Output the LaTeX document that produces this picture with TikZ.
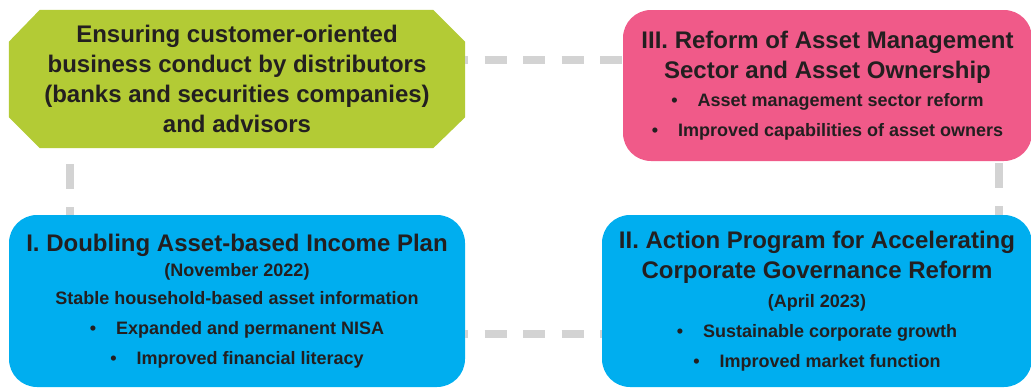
\documentclass[tikz,border=0pt]{standalone}
\usepackage{fontspec}
\setmainfont{Liberation Sans}
\usetikzlibrary{backgrounds}
\definecolor{leaf}{HTML}{B3CB35}
\definecolor{rose}{HTML}{F05A89}
\definecolor{sky}{HTML}{00AEEF}
\definecolor{link}{HTML}{D3D3D3}
\definecolor{ink}{HTML}{231F20}
\newcommand{\bul}[1]{{\fontsize{18}{22}\selectfont \textbullet\hspace{20pt}#1}}
\newcommand{\sub}[1]{{\fontsize{18}{22}\selectfont #1}}
\tikzset{
  box/.style={inner sep=0pt, align=center, text=ink,
    font=\fontsize{24}{30}\selectfont\bfseries},
  roundbox/.style={box, rectangle, rounded corners=28pt},
  hconn/.style={draw=link, line width=7.5pt,
    dash pattern=on 22pt off 16.5pt, dash phase=19pt},
  vconn/.style={draw=link, line width=7.5pt,
    dash pattern=on 25pt off 18pt},
}
\begin{document}
\begin{tikzpicture}[x=1pt,y=-1pt]
\useasboundingbox (0,0) rectangle (1031,388);

\node[box, minimum width=456pt, minimum height=138pt]
  (green) at (237,79)
  {Ensuring customer-oriented\\business conduct by distributors\\(banks and securities companies)\\and advisors};

% octagonal backdrop of the distributors box
\begin{scope}[on background layer]
\fill[leaf]
  ([xshift=31pt]green.north west) -- ([xshift=-32pt]green.north east)
  -- ([yshift=-32pt]green.north east) -- ([yshift=31pt]green.south east)
  -- ([xshift=-32pt]green.south east) -- ([xshift=31pt]green.south west)
  -- ([yshift=31pt]green.south west) -- ([yshift=-32pt]green.north west)
  -- cycle;
\end{scope}

\node[roundbox, fill=rose, minimum width=409pt, minimum height=151pt]
  (pink) at (827.5,85.5)
  {III. Reform of Asset Management\\Sector and Asset Ownership\\[-2pt]
   \bul{Asset management sector reform}\\
   \bul{Improved capabilities of asset owners}};

\node[roundbox, fill=sky, minimum width=456pt, minimum height=172pt]
  (planI) at (237,301)
  {I. Doubling Asset-based Income Plan\\[-5pt]
   \sub{(November 2022)}\\[-2pt]
   \sub{Stable household-based asset information}\\
   \bul{Expanded and permanent NISA}\\
   \bul{Improved financial literacy}};

\node[roundbox, fill=sky, minimum width=430pt, minimum height=172pt]
  (planII) at (817,301)
  {II. Action Program for Accelerating\\Corporate Governance Reform\\[-1pt]
   \sub{(April 2023)}\\
   \bul{Sustainable corporate growth}\\
   \bul{Improved market function}};

% dashed links between the four boxes
\draw[hconn] (green.east |- 0,60) -- (pink.west |- 0,60);
\draw[hconn] (planI.east |- 0,334) -- (planII.west |- 0,334);
\draw[vconn, dash phase=27pt] (green.south -| 70,0) -- (planI.north -| 70,0);
\draw[vconn, dash phase=41pt] (pink.south -| 999,0) -- (planII.north -| 999,0);
\end{tikzpicture}
\end{document}
